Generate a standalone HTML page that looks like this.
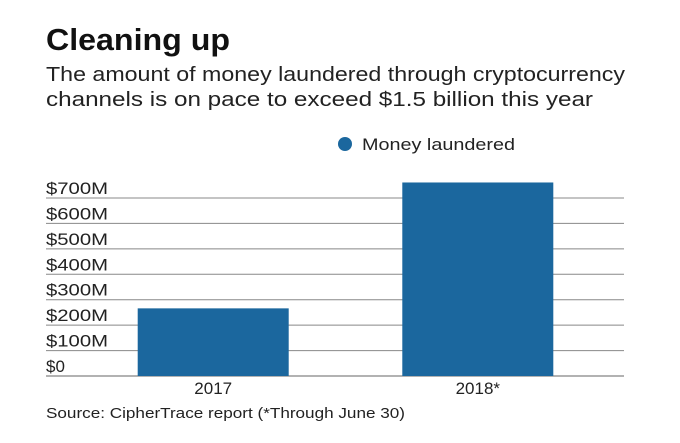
<!DOCTYPE html>
<html><head><meta charset="utf-8"><style>
body{margin:0;background:#fff;font-family:"Liberation Sans",sans-serif;}
</style></head><body>
<svg width="680" height="443" style="display:block">
<text x="46" y="50" font-size="31" font-weight="bold" fill="#111" textLength="184" lengthAdjust="spacingAndGlyphs">Cleaning up</text>
<text x="46" y="81" font-size="20" fill="#222" textLength="579" lengthAdjust="spacingAndGlyphs">The amount of money laundered through cryptocurrency</text>
<text x="46" y="106" font-size="20" fill="#222" textLength="547" lengthAdjust="spacingAndGlyphs">channels is on pace to exceed $1.5 billion this year</text>
<circle cx="345" cy="144" r="7" fill="#1b679e"/>
<text x="362" y="150" font-size="17" fill="#222" textLength="153" lengthAdjust="spacingAndGlyphs">Money laundered</text>
<g id="grid"></g><g id="bars"></g><g id="xl"></g>
<text x="46" y="418" font-size="14.5" fill="#222" textLength="359" lengthAdjust="spacingAndGlyphs">Source: CipherTrace report (*Through June 30)</text>
</svg>
<script>
const categories=["2017","2018*"];
const values=[266,761];
const ticks=[0,100,200,300,400,500,600,700];
const tickLabels=["$0","$100M","$200M","$300M","$400M","$500M","$600M","$700M"];
const NS="http://www.w3.org/2000/svg";
const y0=376,k=0.2543,x0=46,x1=624;
const y=v=>y0-v*k;
const bx=i=>[137.7,402.3][i];
function mk(t,a,p){const e=document.createElementNS(NS,t);for(const n in a)e.setAttribute(n,a[n]);p.appendChild(e);return e;}
const g=document.getElementById('grid');
ticks.forEach((t,i)=>{
 const l=mk('line',{x1:x0,x2:x1,y1:y(t),y2:y(t),stroke:i==0?'#666':'#888','stroke-width':1},g);
 
 
 const tx=mk('text',{x:x0,y:y(t)-4,'font-size':17,fill:'#222'},g);
 tx.textContent=tickLabels[i];
 if(tickLabels[i].length>2){tx.setAttribute('textLength',62);tx.setAttribute('lengthAdjust','spacingAndGlyphs');}
 
 
});
const bg=document.getElementById('bars'),xg=document.getElementById('xl');
categories.forEach((c,i)=>{
 const w=151;
 const r=mk('rect',{x:bx(i),y:y(values[i]),width:w,height:y0-y(values[i]),fill:'#1b679e'},bg);
 
 
 const t=mk('text',{x:bx(i)+w/2,y:394,'font-size':17,fill:'#222','text-anchor':'middle'},xg);
 t.textContent=c;
 
 
});
</script>
</body></html>
